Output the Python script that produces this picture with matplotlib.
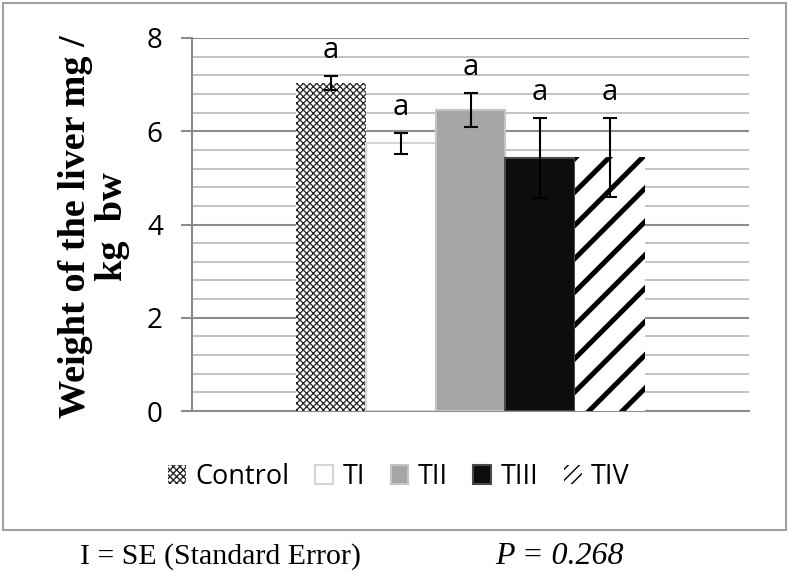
import matplotlib
matplotlib.use("Agg")
import matplotlib.pyplot as plt
from matplotlib.patches import Rectangle, Patch
from matplotlib.ticker import MultipleLocator
import numpy as np

groups = ["Control", "TI", "TII", "TIII", "TIV"]
means = [7.04, 5.74, 6.45, 5.43, 5.44]
se = [0.15, 0.22, 0.36, 0.86, 0.84]
letters = ["a", "a", "a", "a", "a"]
yticks = [0, 2, 4, 6, 8]

faces = ["white", "white", "#a6a6a6", "#0d0d0d", "white"]
edges = ["#262626", "#d4d4d4", "#c4c4c4", "#4a4a4a", "#000000"]
hatches = ["xxxxx", None, None, None, "/"]
hatch_lw = [0.9, 1.0, 1.0, 1.0, 3.6]
bar_lw = [0, 1.5, 1.5, 1.5, 0]

W, H = 788, 574
fig = plt.figure(figsize=(W / 100, H / 100), dpi=100)
ax = fig.add_axes([192 / W, 1 - 411 / H, (749 - 192) / W, (411 - 38) / H])

width = 0.125
n = len(groups)
xs = (np.arange(n) - (n - 1) / 2) * width


def make_hatched(artist, lw):
    try:
        artist.set_hatch_linewidth(lw)
    except Exception:
        pass


bars = []
for i in range(n):
    with plt.rc_context({"hatch.linewidth": hatch_lw[i]}):
        b = ax.bar(xs[i], means[i], width=width, color=faces[i],
                   edgecolor=edges[i], linewidth=bar_lw[i],
                   hatch=hatches[i], label=groups[i], zorder=3)
    for p in b:
        make_hatched(p, hatch_lw[i])
    bars.append(b)

ax.errorbar(xs, means, yerr=se, fmt="none", ecolor="black", elinewidth=1.5,
            capsize=5, capthick=1.5, zorder=4)

for x, m, s, t in zip(xs, means, se, letters):
    ax.annotate(t, (x, m + s), xytext=(0, 13), textcoords="offset points",
                ha="center", va="baseline", fontsize=21, family="Open Sans")

ax.set_xlim(-0.5, 0.5)
ax.set_ylim(0, 8)
ax.set_yticks(yticks)
ax.yaxis.set_minor_locator(MultipleLocator(0.4))
ax.set_xticks([])
ax.grid(axis="y", which="major", color="#8c8c8c", linewidth=1.5, zorder=0)
ax.grid(axis="y", which="minor", color="#b8b8b8", linewidth=1.2, zorder=0)
ax.set_axisbelow(True)
for s in ["top", "right"]:
    ax.spines[s].set_visible(False)
ax.spines["left"].set_color("#8c8c8c")
ax.spines["left"].set_linewidth(1.5)
ax.spines["bottom"].set_color("#8c8c8c")
ax.spines["bottom"].set_linewidth(1.5)
ax.tick_params(axis="y", which="major", length=8, width=1.5, color="#8c8c8c",
               pad=13, labelsize=20)
ax.tick_params(axis="y", which="minor", length=0)
for lab in ax.get_yticklabels():
    lab.set_family("Open Sans")

fig.text(94 / W, 1 - 227 / H, "Weight of the liver mg /\nkg  bw", rotation=90,
         ha="center", va="center", fontsize=27.5, fontweight="bold",
         family="Liberation Serif", linespacing=1.1)

# legend handles: reuse bar styles; TIV handle with denser stripes so the
# pattern shows in the small swatch
handles = [b[0] for b in bars[:-1]]
with plt.rc_context({"hatch.linewidth": 2.5}):
    tiv_handle = Patch(facecolor="white", edgecolor="black", hatch="///",
                       linewidth=0)
make_hatched(tiv_handle, 2.5)
handles.append(tiv_handle)

leg = fig.legend(handles=handles, labels=groups, ncol=5,
                 loc="center", bbox_to_anchor=(399 / W, 1 - 477 / H),
                 frameon=False, prop={"family": "Open Sans", "size": 19.5},
                 handlelength=0.65, handleheight=0.65, handletextpad=0.35,
                 columnspacing=0.95, borderpad=0)

fig.patches.append(Rectangle((3 / W, 1 - 530 / H), (786 - 3) / W, (530 - 3) / H,
                             transform=fig.transFigure, fill=False,
                             edgecolor="#a0a0a0", linewidth=1.5))

fig.text(80 / W, 1 - 564 / H, "I = SE (Standard Error)", fontsize=21.5,
         family="Liberation Serif", va="baseline", ha="left")
fig.text(495 / W, 1 - 564 / H, "P = 0.268", fontsize=23, style="italic",
         family="Liberation Serif", va="baseline", ha="left")

fig.savefig("out.png", dpi=100)
